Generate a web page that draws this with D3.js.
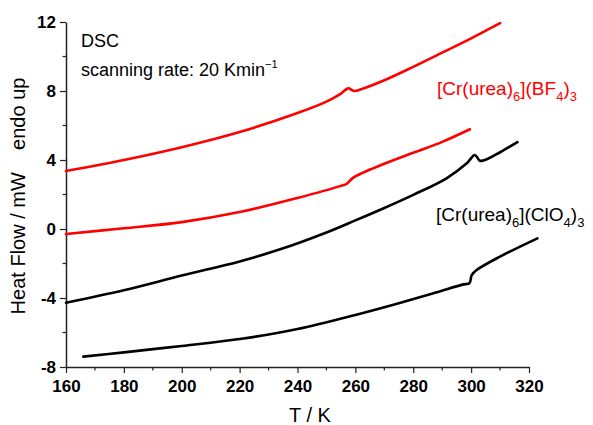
<!DOCTYPE html>
<html>
<head>
<meta charset="utf-8">
<script src="https://cdn.jsdelivr.net/npm/d3@7"></script>
<style>
  body { margin: 0; background: #fff; }
  svg { display: block; font-family: "Liberation Sans", Arial, sans-serif; }
</style>
</head>
<body>
<div id="chart"></div>
<script>
// DSC traces: [T / K, heat flow / mW]
const bf4Upper = [
  [160, 3.36], [180, 4.00], [200, 4.74], [220, 5.62], [240, 6.72], [250, 7.38],
  [255, 7.85], [257.5, 8.15], [259.5, 8.00], [262, 8.10], [270, 8.62],
  [280, 9.40], [290, 10.22], [300, 11.05], [310, 11.93]
];
const bf4Lower = [
  [160, -0.29], [180, 0.04], [200, 0.40], [220, 0.98], [240, 1.80], [255, 2.50],
  [257, 2.62], [259.3, 2.98], [270, 3.78], [280, 4.42], [290, 5.05], [299.6, 5.78]
];
const clo4Upper = [
  [160, -4.27], [180, -3.55], [200, -2.70], [220, -1.88], [234, -1.18], [250, -0.20],
  [260, 0.50], [270, 1.22], [280, 1.98], [291.5, 2.94], [298.5, 3.81], [301.3, 4.29],
  [303, 3.96], [305.4, 4.04], [310, 4.45], [316, 5.03]
];
const clo4Lower = [
  [166, -7.40], [180, -7.15], [200, -6.78], [220, -6.38], [240, -5.80], [260, -4.98],
  [275, -4.30], [287, -3.73], [297.3, -3.21], [299.4, -3.15], [300.2, -2.67],
  [301.9, -2.38], [310, -1.60], [322.9, -0.54]
];
const series = [
  { name: 'bf4Upper', color: '#ff0000', values: bf4Upper },
  { name: 'bf4Lower', color: '#ff0000', values: bf4Lower },
  { name: 'clo4Upper', color: '#000000', values: clo4Upper },
  { name: 'clo4Lower', color: '#000000', values: clo4Lower }
];
const xTicks = [160, 180, 200, 220, 240, 260, 280, 300, 320];
const yTicks = [-8, -4, 0, 4, 8, 12];

const width = 593, height = 425;
const x = d3.scaleLinear().domain([160, 320]).range([66, 529]);
const y = d3.scaleLinear().domain([-8, 12]).range([367, 22]);

const svg = d3.select('#chart').append('svg')
  .attr('width', width).attr('height', height);

// axes (plain hyphen minus, like the original)
const fmt = d => String(d);
const xAxis = d3.axisBottom(x).tickValues(xTicks).tickFormat(fmt)
  .tickSize(6).tickPadding(7).tickSizeOuter(0);
const yAxis = d3.axisLeft(y).tickValues(yTicks).tickFormat(fmt)
  .tickSize(6).tickPadding(4).tickSizeOuter(0);

const gx = svg.append('g').attr('transform', `translate(0,${y(-8)})`).call(xAxis);
const gy = svg.append('g').attr('transform', `translate(${x(160)},0)`).call(yAxis);

// minor ticks
svg.append('g').selectAll('line')
  .data(d3.range(170, 320, 20))
  .join('line')
  .attr('x1', d => x(d)).attr('x2', d => x(d))
  .attr('y1', y(-8)).attr('y2', y(-8) + 3.5)
  .attr('stroke', '#222').attr('stroke-width', 1.2);
svg.append('g').selectAll('line')
  .data(d3.range(-6, 12, 4))
  .join('line')
  .attr('x1', x(160) - 3.5).attr('x2', x(160))
  .attr('y1', d => y(d)).attr('y2', d => y(d))
  .attr('stroke', '#222').attr('stroke-width', 1.2);

[gx, gy].forEach(g => {
  g.select('.domain').attr('stroke', '#222').attr('stroke-width', 1.5);
  g.selectAll('.tick line').attr('stroke', '#222').attr('stroke-width', 1.2);
  g.selectAll('.tick text')
    .attr('fill', '#000')
    .style('font-family', '"Liberation Sans", Arial, sans-serif')
    .style('font-size', '17px')
    .style('font-weight', 'bold');
});

// curves
const line = d3.line()
  .x(d => x(d[0]))
  .y(d => y(d[1]))
  .curve(d3.curveCatmullRom.alpha(0.5));

svg.append('g').selectAll('path')
  .data(series)
  .join('path')
  .attr('d', d => line(d.values))
  .attr('fill', 'none')
  .attr('stroke', d => d.color)
  .attr('stroke-width', 2.6)
  .attr('stroke-linejoin', 'round')
  .attr('stroke-linecap', 'round');

// axis titles
svg.append('text')
  .attr('x', 310).attr('y', 422)
  .attr('text-anchor', 'middle')
  .style('font-size', '20px')
  .text('T / K');

svg.append('text')
  .attr('transform', 'translate(25,196) rotate(-90)')
  .attr('text-anchor', 'middle')
  .style('font-size', '20px')
  .style('white-space', 'pre')
  .text('Heat Flow / mW    endo up');

// annotations
svg.append('text')
  .attr('x', 81).attr('y', 47)
  .style('font-size', '18px')
  .text('DSC');

const rate = svg.append('text')
  .attr('x', 81).attr('y', 76)
  .style('font-size', '18px');
rate.append('tspan').text('scanning rate: 20 Kmin');
rate.append('tspan').attr('dy', -8).style('font-size', '11px').text('\u22121');

function formula(xPos, yPos, color, anion, anionSub) {
  const t = svg.append('text')
    .attr('x', xPos).attr('y', yPos)
    .attr('fill', color)
    .style('font-size', '19px');
  t.append('tspan').text('[Cr(urea)');
  t.append('tspan').attr('dy', 6).style('font-size', '13px').text('6');
  t.append('tspan').attr('dy', -6).text('](' + anion);
  t.append('tspan').attr('dy', 6).style('font-size', '13px').text(anionSub);
  t.append('tspan').attr('dy', -6).text(')');
  t.append('tspan').attr('dy', 6).style('font-size', '13px').text('3');
}
formula(437, 95, '#ff0000', 'BF', '4');
formula(436, 221, '#000000', 'ClO', '4');
</script>
</body>
</html>
